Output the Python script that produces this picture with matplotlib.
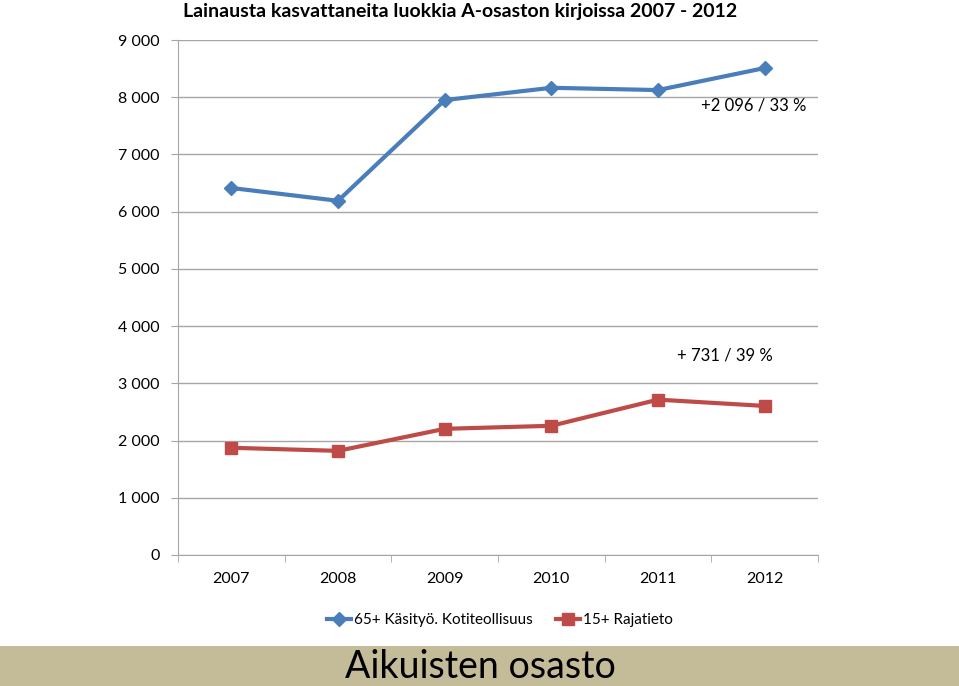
import matplotlib.pyplot as plt
from matplotlib.patches import Rectangle

plt.rcParams['font.family'] = ['Lato', 'DejaVu Sans']

years = ['2007', '2008', '2009', '2010', '2011', '2012']
kasityo = [6414, 6190, 7950, 8165, 8125, 8510]
rajatieto = [1874, 1820, 2205, 2258, 2715, 2605]

blue = '#4A7EBB'
red = '#BE4B48'
grid_col = '#A6A6A6'

fig = plt.figure(figsize=(9.59, 6.86), dpi=100)
ax = fig.add_axes([178 / 959, 131 / 686, 640 / 959, 515 / 686])

x = list(range(len(years)))
ax.plot(x, kasityo, color=blue, lw=3, marker='D', ms=7, label='65+ Käsityö. Kotiteollisuus')
ax.plot(x, rajatieto, color=red, lw=3, marker='s', ms=8, label='15+ Rajatieto')

ax.set_xlim(-0.5, 5.5)
ax.set_ylim(0, 9000)
ax.set_yticks(range(0, 9001, 1000))
ax.set_yticklabels(['0' if v == 0 else f'{v // 1000} 000' for v in range(0, 9001, 1000)])
ax.set_xticks(x)
ax.set_xticklabels(years)
ax.set_xticks([i - 0.5 for i in range(7)], minor=True)
ax.tick_params(axis='x', which='major', length=0, pad=12, labelsize=11.5)
ax.tick_params(axis='x', which='minor', length=5, color=grid_col)
ax.tick_params(axis='y', length=5, color=grid_col, labelsize=11.5, pad=8)
ax.grid(axis='y', color=grid_col, lw=1)
ax.set_axisbelow(True)
for s in ['top', 'right']:
    ax.spines[s].set_visible(False)
for s in ['left', 'bottom']:
    ax.spines[s].set_color(grid_col)

ax.text(5.39, 7860, '+2 096 / 33 %', ha='right', va='center', fontsize=12)
ax.text(5.08, 3480, '+ 731 / 39 %', ha='right', va='center', fontsize=12)

fig.text(183 / 959, 1 - 12 / 686, 'Lainausta kasvattaneita luokkia A-osaston kirjoissa 2007 - 2012',
         ha='left', va='center', fontsize=14, fontweight='bold')

fig.legend(loc='center', bbox_to_anchor=(500 / 959, 1 - 620 / 686), ncol=2, frameon=False,
           fontsize=11, handlelength=1.6, columnspacing=1.5, handletextpad=0.2)

fig.patches.append(Rectangle((0, 0), 1, 40 / 686, transform=fig.transFigure,
                             facecolor='#C4BC98', edgecolor='none'))
fig.text(480 / 959, 0.5 / 686, 'Aikuisten osasto', ha='center', va='bottom', fontsize=27)

fig.savefig('out.png', dpi=100)
